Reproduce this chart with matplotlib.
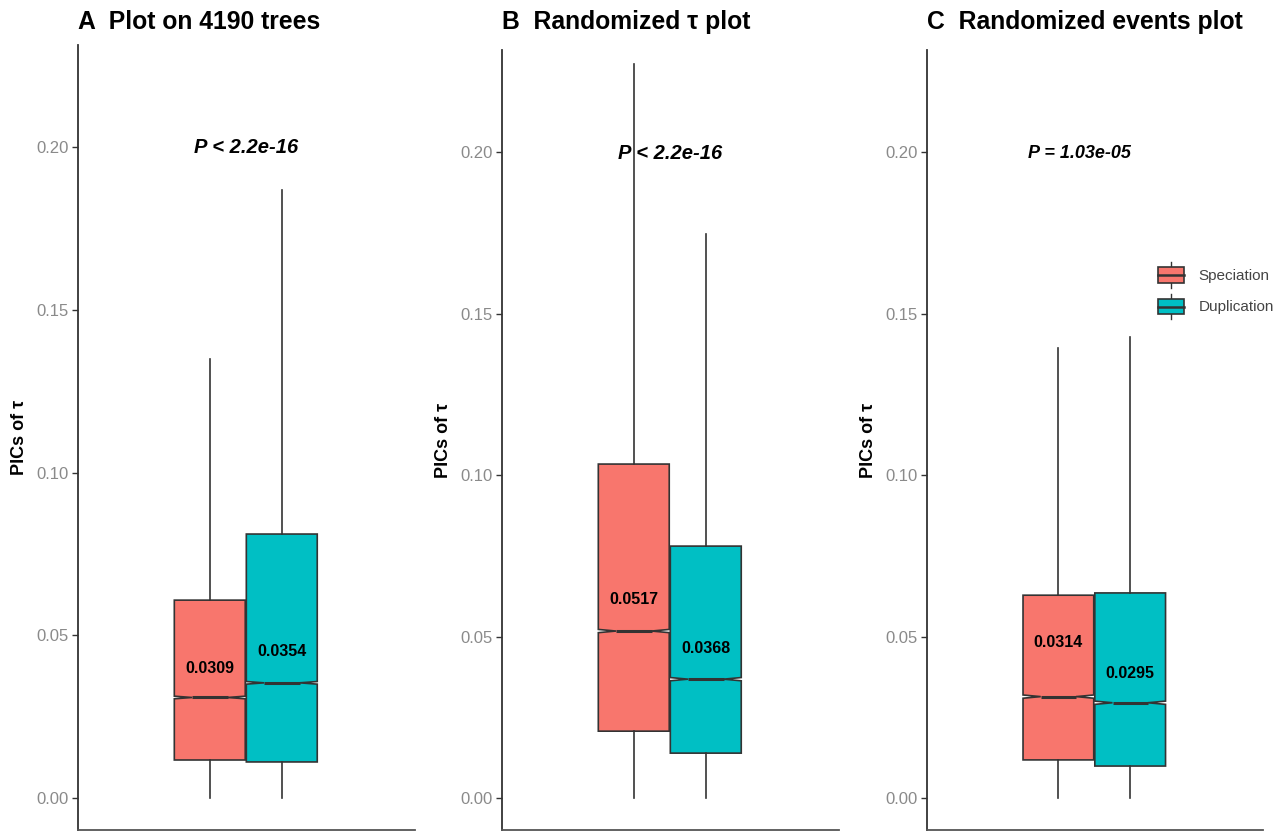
import matplotlib
matplotlib.use("Agg")
import matplotlib.pyplot as plt
from matplotlib.legend_handler import HandlerBase
from matplotlib.patches import Rectangle
from matplotlib.lines import Line2D

plt.rcParams['font.family'] = ['Liberation Sans', 'DejaVu Sans']

# ---- data ----
panel_titles = ["A  Plot on 4190 trees", "B  Randomized \u03c4 plot", "C  Randomized events plot"]
p_labels = ["P < 2.2e-16", "P < 2.2e-16", "P = 1.03e-05"]
groups = ["Speciation", "Duplication"]
colors = ["#F8766D", "#00BFC4"]

whislo = [[0.0, 0.0], [0.0, 0.0], [0.0, 0.0]]
q1 = [[0.0117, 0.0111], [0.0207, 0.0139], [0.0118, 0.0099]]
med = [[0.0309, 0.0354], [0.0517, 0.0368], [0.0314, 0.0295]]
q3 = [[0.0608, 0.0811], [0.1034, 0.0780], [0.0628, 0.0635]]
whishi = [[0.1349, 0.1868], [0.2272, 0.1746], [0.1393, 0.1427]]
notch_half = [[0.0004, 0.0004], [0.0005, 0.0005], [0.0005, 0.0005]]
median_labels = [["0.0309", "0.0354"], ["0.0517", "0.0368"], ["0.0314", "0.0295"]]
label_y = [[0.0399, 0.0449], [0.0616, 0.0464], [0.0480, 0.0387]]
p_x = [1.5, 1.5, 1.3]
p_y = [0.1997, 0.1997, 0.1997]
p_size = [14.5, 14.5, 13.0]

W, H = 1282, 834
fig = plt.figure(figsize=(W / 100, H / 100), dpi=100)

axes_px = [(78, 415, 45), (502, 839, 50), (927, 1263, 50)]
ylims = [(-0.0098, 0.2313), (-0.0099, 0.2316), (-0.0099, 0.2316)]
edge = "#333333"


class BoxHandler(HandlerBase):
    def create_artists(self, legend, orig_handle, xdescent, ydescent, width, height, fontsize, trans):
        fc = orig_handle.get_facecolor()
        x0, y0 = -xdescent, -ydescent
        bw = width * 0.95
        bx = x0 + (width - bw) / 2
        rect = Rectangle((bx, y0 + height * 0.2), bw, height * 0.6,
                         facecolor=fc, edgecolor=edge, lw=1.2, transform=trans)
        m = Line2D([bx, bx + bw], [y0 + height * 0.5] * 2, color=edge, lw=1.8, transform=trans)
        cx = x0 + width / 2
        w1 = Line2D([cx, cx], [y0 + height * 0.8, y0 + height * 1.0], color=edge, lw=1.0, transform=trans)
        w2 = Line2D([cx, cx], [y0, y0 + height * 0.2], color=edge, lw=1.0, transform=trans)
        return [w1, w2, rect, m]


for i in range(3):
    l, r, t = axes_px[i]
    ax = fig.add_axes([l / W, (H - 830) / H, (r - l) / W, (830 - t) / H])
    stats = []
    for j in range(2):
        stats.append(dict(med=med[i][j], q1=q1[i][j], q3=q3[i][j],
                          whislo=whislo[i][j], whishi=whishi[i][j],
                          cilo=med[i][j] - notch_half[i][j], cihi=med[i][j] + notch_half[i][j],
                          fliers=[], label=groups[j]))
    bp = ax.bxp(stats, positions=[1, 2], widths=0.985, shownotches=True, patch_artist=True,
                showfliers=False, showcaps=False,
                boxprops=dict(edgecolor=edge, linewidth=1.2),
                medianprops=dict(color=edge, linewidth=2.2),
                whiskerprops=dict(color=edge, linewidth=1.2))
    for patch, c in zip(bp['boxes'], colors):
        patch.set_facecolor(c)
    for j in range(2):
        ax.text(j + 1, label_y[i][j], median_labels[i][j], ha='center', va='center',
                fontsize=11.5, fontweight='bold', color='black')
    ax.text(p_x[i], p_y[i], p_labels[i], ha='center', va='center', fontsize=p_size[i],
            fontweight='bold', fontstyle='italic', color='black')
    ax.set_xlim(-0.83, 3.85)
    ax.set_ylim(*ylims[i])
    ax.set_yticks([0.0, 0.05, 0.10, 0.15, 0.20])
    ax.set_yticklabels(["0.00", "0.05", "0.10", "0.15", "0.20"])
    ax.set_xticks([])
    for s in ['top', 'right']:
        ax.spines[s].set_visible(False)
    ax.spines['left'].set_color('#333333')
    ax.spines['left'].set_linewidth(1.3)
    ax.spines['bottom'].set_color('#555555')
    ax.spines['bottom'].set_linewidth(1.3)
    ax.tick_params(axis='y', colors='#333333', labelcolor='#8a8a8a', labelsize=12, length=4, width=1.0, pad=3)
    ax.set_ylabel("PICs of \u03c4", fontsize=13, fontweight='bold', labelpad=6)
    fig.text(l / W, 1 - 22 / H, panel_titles[i], ha='left', va='center', fontsize=17.8, fontweight='bold')
    if i == 2:
        handles = [Rectangle((0, 0), 1, 1, facecolor=c) for c in colors]
        leg = ax.legend(handles, groups, handler_map={Rectangle: BoxHandler()},
                        loc='upper left', bbox_to_anchor=(0.685, 0.728), frameon=False,
                        borderpad=0, borderaxespad=0,
                        fontsize=11, handlelength=1.8, handleheight=2.2, labelspacing=0.4,
                        handletextpad=0.9)
        for txt in leg.get_texts():
            txt.set_color('#444444')

fig.savefig("out.png", dpi=100)
